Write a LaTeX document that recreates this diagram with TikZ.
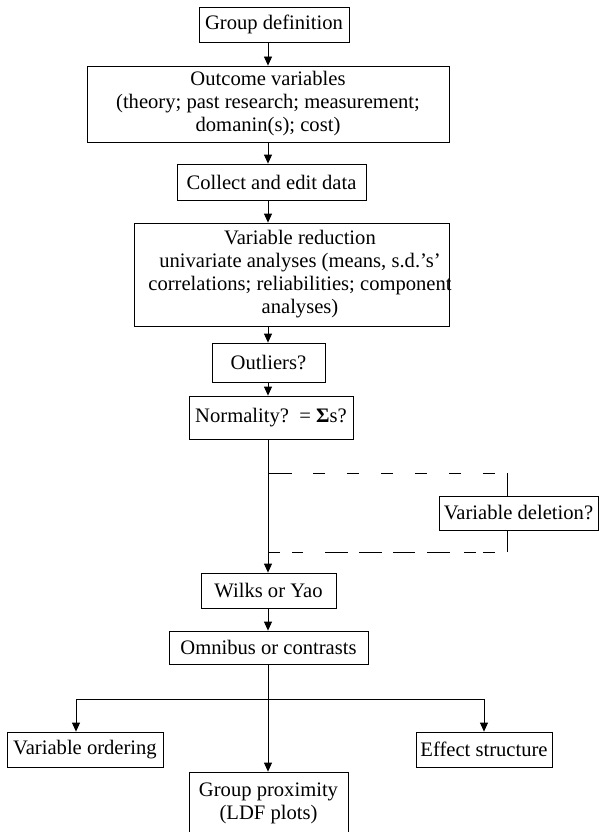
\documentclass[tikz,border=0pt]{standalone}
\usepackage{fontspec}
\setmainfont{Liberation Serif}
\usetikzlibrary{arrows.meta}
\newcommand\diagfont{\fontsize{20.6}{23}\selectfont}
\begin{document}
\begin{tikzpicture}[x=1pt,y=-1pt,
  box/.style={draw, line width=0.8pt, inner sep=0pt, align=center, font=\diagfont},
  txt/.style={inner sep=0pt, align=center, font=\diagfont},
  arr/.style={line width=0.8pt, -{Triangle[length=9pt,width=8pt]}},
  ln/.style={line width=0.8pt}]
\useasboundingbox (0,0) rectangle (599,832);
\fill[white] (0,0) rectangle (599,832);
\coordinate (m) at (268,0);
\coordinate (bl) at (76,0);

\node[box, minimum width=150, minimum height=35] (gd) at (274,24.5) {Group definition};
\node[box, minimum width=362, minimum height=76] (oc) at (268,104) {Outcome variables\\(theory; past research; measurement;\\domanin(s); cost)};
\node[box, minimum width=189, minimum height=36] (ce) at (271.5,182) {Collect and edit data};
\node[box, minimum width=315, minimum height=103] (vr) at (291.5,274.5) {};
\node[txt] (vrt) at (300,274.5) {Variable reduction\\univariate analyses (means, s.d.’s’\\correlations; reliabilities; component\\analyses)};
\node[box, minimum width=113, minimum height=39] (ol) at (268.5,362.5) {Outliers?};
\node[box, minimum width=164, minimum height=43] (nm) at (271,417.5) {Normality?\ \ = {\bfseries Σ}s?};
\node[box, minimum width=159, minimum height=34] (vd) at (518.5,513) {Variable deletion?};
\node[box, minimum width=135, minimum height=35] (wy) at (268.5,590.5) {Wilks or Yao};
\node[box, minimum width=199, minimum height=33] (om) at (268.5,647.5) {Omnibus or contrasts};
\node[box, minimum width=156, minimum height=35] (vo) at (85,749.5) {Variable ordering};
\node[box, minimum width=136, minimum height=35] (es) at (484,749.5) {Effect structure};
\node[box, minimum width=159, minimum height=62] (gp) at (268.5,803) {Group proximity\\(LDF plots)};

\coordinate (d1) at (268,473);
\coordinate (d2) at (507,473);
\coordinate (d3) at (507,552);
\coordinate (d4) at (268,552);
\coordinate (br) at (268,699);

\draw[arr] (gd.south -| m) -- (oc.north -| m);
\draw[arr] (oc.south -| m) -- (ce.north -| m);
\draw[arr] (ce.south -| m) -- (vr.north -| m);
\draw[arr] (vr.south -| m) -- (ol.north -| m);
\draw[arr] (ol.south -| m) -- (nm.north -| m);
\draw[arr] (nm.south -| m) -- (wy.north -| m);
\draw[arr] (wy.south -| m) -- (om.north -| m);
\draw[arr] (om.south -| m) -- (gp.north -| m);
\draw[arr] (br) -| (vo.north -| bl);
\draw[arr] (br) -| (es.north);

\draw[ln, dash pattern=on 24pt off 21pt on 12pt off 22pt on 12pt off 22pt on 12pt off 22pt on 12pt off 22pt on 12pt off 22pt on 12pt off 22pt on 14pt off 10pt] (d1) -- (d2);
\draw[ln] (d2) -- (vd.north -| d2);
\draw[ln] (vd.south -| d2) -- (d3);
\draw[ln, dash pattern=on 12pt off 12pt on 11pt off 22pt on 23pt off 11pt on 23pt off 11pt on 22pt off 12pt on 23pt off 14pt on 12pt off 7pt on 12pt off 12pt] (d4) -- (d3);
\end{tikzpicture}
\end{document}
